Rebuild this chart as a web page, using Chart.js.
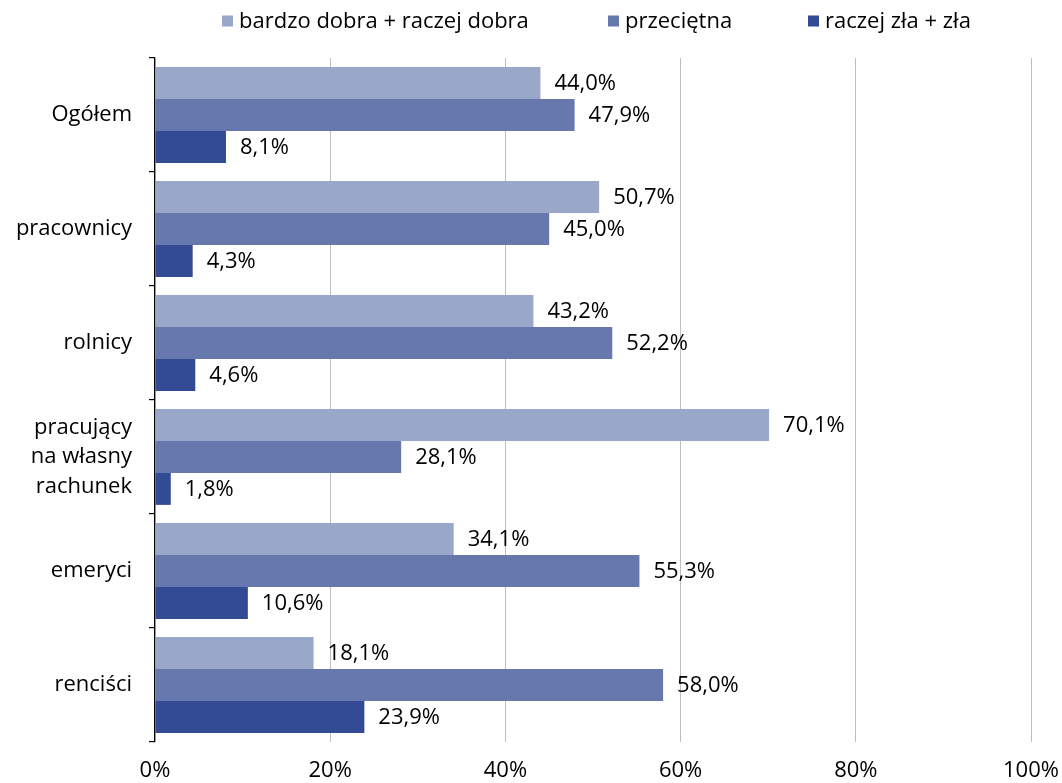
<!DOCTYPE html>
<html>
<head>
<meta charset="utf-8">
<script src="https://cdn.jsdelivr.net/npm/chart.js@4"></script>
<style>
html,body{margin:0;padding:0;background:#fff;}
#wrap{width:1062px;height:783px;position:relative;}
</style>
</head>
<body>
<div id="wrap"><canvas id="c" width="1062" height="783"></canvas></div>
<script>
const categories = ['Ogółem', 'pracownicy', 'rolnicy', ['pracujący', 'na własny', 'rachunek'], 'emeryci', 'renciści'];
const seriesNames = ['bardzo dobra + raczej dobra', 'przeciętna', 'raczej zła + zła'];
const goodValues = [44.0, 50.7, 43.2, 70.1, 34.1, 18.1];
const averageValues = [47.9, 45.0, 52.2, 28.1, 55.3, 58.0];
const badValues = [8.1, 4.3, 4.6, 1.8, 10.6, 23.9];
const xTicks = [0, 20, 40, 60, 80, 100];
const colors = ['#99A7C9', '#6778AE', '#334A94'];
const FONT = '"Open Sans", sans-serif';
const FS = 22;

const fmt = v => v.toFixed(1).replace('.', ',') + '%';

const dataLabels = {
  id: 'dataLabels',
  afterDatasetsDraw(chart) {
    const ctx = chart.ctx;
    ctx.save();
    ctx.font = FS + 'px ' + FONT;
    ctx.fillStyle = '#000';
    ctx.textAlign = 'left';
    ctx.textBaseline = 'middle';
    chart.data.datasets.forEach((ds, i) => {
      const meta = chart.getDatasetMeta(i);
      meta.data.forEach((bar, j) => {
        ctx.fillText(fmt(ds.data[j]), bar.x + 14, bar.y + 1);
      });
    });
    ctx.restore();
  }
};

const legendX = [222, 608, 808];
const customLegend = {
  id: 'customLegend',
  afterDraw(chart) {
    const ctx = chart.ctx;
    ctx.save();
    ctx.font = FS + 'px ' + FONT;
    ctx.textBaseline = 'middle';
    ctx.textAlign = 'left';
    const box = 11, gapBT = 6, y = 21;
    chart.data.datasets.forEach((ds, i) => {
      const x = legendX[i];
      ctx.fillStyle = ds.backgroundColor;
      ctx.fillRect(x, y - box / 2, box, box);
      ctx.fillStyle = '#000';
      ctx.fillText(ds.label, x + box + gapBT, y + 1);
    });
    ctx.restore();
  }
};

new Chart(document.getElementById('c'), {
  type: 'bar',
  data: {
    labels: categories,
    datasets: [
      { label: seriesNames[0], data: goodValues, backgroundColor: colors[0] },
      { label: seriesNames[1], data: averageValues, backgroundColor: colors[1] },
      { label: seriesNames[2], data: badValues, backgroundColor: colors[2] }
    ]
  },
  options: {
    indexAxis: 'y',
    responsive: false,
    animation: false,
    devicePixelRatio: 1,
    layout: { padding: { top: 58, right: 0, left: 0, bottom: 0 } },
    datasets: { bar: { barPercentage: 1.0, categoryPercentage: 0.84, borderWidth: 0 } },
    plugins: { legend: { display: false }, tooltip: { enabled: false } },
    scales: {
      x: {
        min: 0, max: 100,
        afterBuildTicks(scale) { scale.ticks = xTicks.map(v => ({ value: v })); },
        afterFit(scale) { scale.height = 41; scale.paddingRight = 31; scale.paddingLeft = 0; },
        ticks: { font: { family: FONT, size: FS }, color: '#000', padding: 16, maxRotation: 0, callback: v => v + '%' },
        grid: { color: '#BFBFBF', lineWidth: 1, drawTicks: false },
        border: { display: false }
      },
      y: {
        afterFit(scale) { scale.width = 155; },
        ticks: { font: { family: FONT, size: FS, lineHeight: 1.33 }, color: '#000', padding: 17 },
        grid: { offset: true, drawOnChartArea: false, drawTicks: true, tickLength: 6, color: '#000', lineWidth: 1.2 },
        border: { display: true, color: '#000', width: 1.2 }
      }
    }
  },
  plugins: [dataLabels, customLegend]
});
</script>
</body>
</html>
